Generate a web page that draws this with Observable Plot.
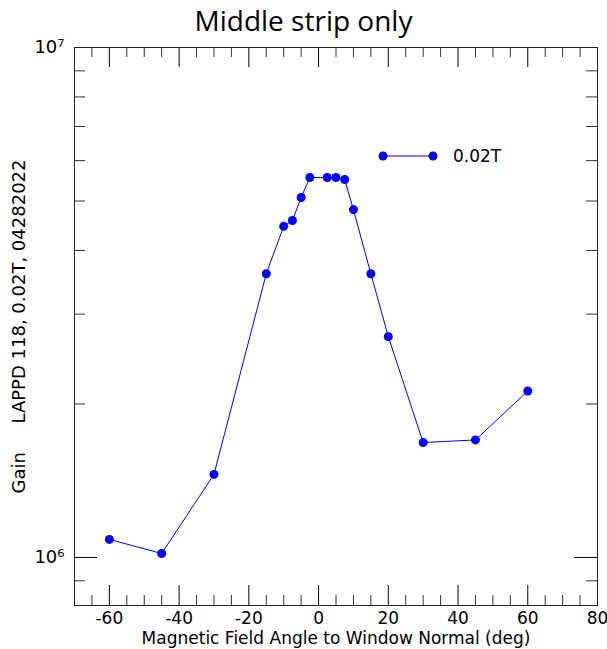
<!DOCTYPE html>
<html>
<head>
<meta charset="utf-8">
<script src="https://cdn.jsdelivr.net/npm/d3@7"></script>
<script src="https://cdn.jsdelivr.net/npm/@observablehq/plot@0.6"></script>
<style>
  body { margin: 0; background: #fff; }
  #wrap { position: relative; width: 607px; height: 649px; }
  #title { height: 30px; text-align: center; font-family: "Open Sans", sans-serif; font-size: 28px; line-height: 40px; color: #000; }
  #legend { position: absolute; left: 376px; top: 144px; font-family: "DejaVu Sans", sans-serif; font-size: 17px; }
</style>
</head>
<body>
<div id="wrap">
  <div id="title">Middle strip only</div>
  <div id="chart"></div>
  <div id="legend"></div>
</div>
<script>
const angles = [-60, -45, -30, -15, -10, -7.5, -5, -2.5, 2.5, 5, 7.5, 10, 15, 20, 30, 45, 60];
const gains  = [1.085e6, 1.018e6, 1.455e6, 3.60e6, 4.46e6, 4.58e6, 5.08e6, 5.56e6, 5.56e6, 5.56e6, 5.51e6, 4.81e6, 3.60e6, 2.71e6, 1.68e6, 1.70e6, 2.12e6];
const seriesName = "0.02T";
const xMajor = [-60, -40, -20, 0, 20, 40, 60, 80];
const xMinor = d3.range(-65, 80, 5).filter(v => v % 20 !== 0);
const yMajor = [1e6, 1e7];
const yMinor = [9e5, 2e6, 3e6, 4e6, 5e6, 6e6, 7e6, 8e6, 9e6];

const data = angles.map((a, i) => ({angle: a, gain: gains[i]}));

const W = 607, H = 619, mL = 74, mR = 10, mT = 17, mB = 44;
const fw = W - mL - mR, fh = H - mT - mB;
const sup = {"6": "\u2076", "7": "\u2077"};

const chart = Plot.plot({
  width: W, height: H,
  marginLeft: mL, marginRight: mR, marginTop: mT, marginBottom: mB,
  style: {fontFamily: "DejaVu Sans, sans-serif", fontSize: "17px", color: "#000", background: "#fff"},
  x: {domain: [-70, 80]},
  y: {type: "log", domain: [8.05e5, 1e7]},
  marks: [
    // tick labels and titles
    Plot.axisX(xMajor, {anchor: "bottom", tickSize: 0, tickPadding: 6, fontSize: 17,
      tickFormat: d => String(d),
      label: "Magnetic Field Angle to Window Normal (deg)", labelAnchor: "center", labelArrow: "none", labelOffset: 38}),
    Plot.axisY(yMajor, {anchor: "left", tickSize: 0, tickPadding: 10, fontSize: 18,
      tickFormat: d => "10" + sup[String(Math.round(Math.log10(d)))],
      label: "Gain\u00a0\u00a0\u00a0\u00a0\u00a0LAPPD 118, 0.02T, 04282022", labelAnchor: "center", labelArrow: "none", labelOffset: 62}),
    // inward ticks
    Plot.tickX(xMajor, {x: d => d, insetTop: fh - 20, stroke: "#000"}),
    Plot.tickX(xMinor, {x: d => d, insetTop: fh - 10, stroke: "#333"}),
    Plot.tickX(xMajor, {x: d => d, insetBottom: fh - 20, stroke: "#000"}),
    Plot.tickX(xMinor, {x: d => d, insetBottom: fh - 10, stroke: "#333"}),
    Plot.tickY(yMajor, {y: d => d, insetRight: fw - 23, stroke: "#000"}),
    Plot.tickY(yMinor, {y: d => d, insetRight: fw - 11, stroke: "#333"}),
    Plot.tickY(yMajor, {y: d => d, insetLeft: fw - 23, stroke: "#000"}),
    Plot.tickY(yMinor, {y: d => d, insetLeft: fw - 11, stroke: "#333"}),
    Plot.frame({stroke: "#222"}),
    // data
    Plot.line(data, {x: "angle", y: "gain", stroke: "#0000ff", strokeWidth: 1}),
    Plot.dot(data, {x: "angle", y: "gain", r: 4.5, fill: "#0000ff", stroke: "none"})
  ]
});
document.getElementById("chart").appendChild(chart);

// legend
document.getElementById("legend").innerHTML =
  `<svg width="180" height="24" style="overflow:visible">
     <line x1="7" y1="12" x2="57" y2="12" stroke="#0000ff" stroke-width="1"/>
     <circle cx="7" cy="12" r="4.5" fill="#0000ff"/>
     <circle cx="57" cy="12" r="4.5" fill="#0000ff"/>
     <text x="77" y="12" dy="0.35em" font-family="DejaVu Sans, sans-serif" font-size="17">${seriesName}</text>
   </svg>`;
</script>
</body>
</html>
